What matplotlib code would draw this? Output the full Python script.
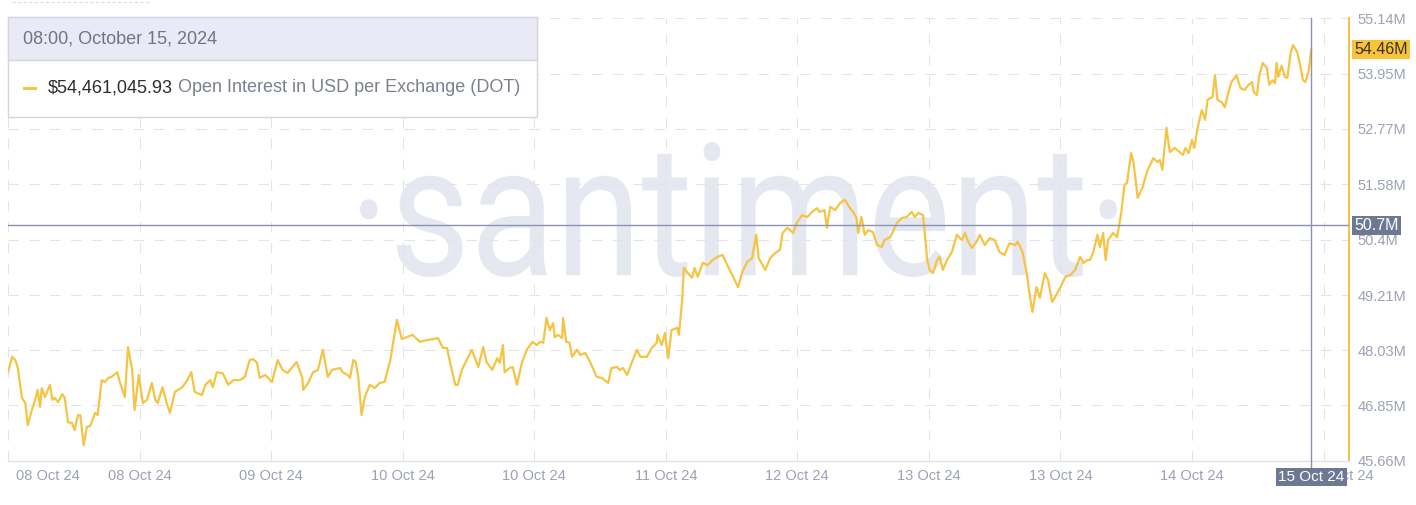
import matplotlib
matplotlib.use("Agg")
import matplotlib.pyplot as plt
from matplotlib.font_manager import FontProperties
from matplotlib.lines import Line2D
from matplotlib.patches import PathPatch, Rectangle
from matplotlib.textpath import TextPath
from matplotlib.transforms import Affine2D, IdentityTransform

# hours since the first sample (08 Oct 24) and open interest in millions USD
HOURS = [
    0.0, 0.5, 0.9, 1.2, 1.7, 2.1, 2.4, 2.9, 3.3, 3.6,
    3.9, 4.1, 4.5, 5.1, 5.4, 5.7, 6.1, 6.6, 6.9, 7.3,
    7.8, 8.1, 8.5, 8.8, 9.2, 9.6, 10.0, 10.6, 10.9, 11.4,
    11.8, 12.2, 12.6, 13.3, 13.6, 14.2, 14.6, 15.1, 15.4, 15.9,
    16.4, 16.9, 17.5, 17.9, 18.2, 18.8, 19.3, 19.7, 20.3, 21.2,
    21.8, 22.3, 22.7, 23.6, 24.0, 24.6, 24.9, 25.4, 26.1, 26.8,
    27.4, 28.2, 28.8, 29.4, 29.8, 30.3, 30.6, 31.3, 32.1, 32.8,
    33.4, 34.0, 35.1, 35.8, 35.9, 36.5, 37.1, 37.7, 38.3, 38.9,
    39.4, 40.4, 40.7, 41.3, 41.6, 42.0, 42.3, 42.6, 43.0, 43.4,
    44.0, 44.6, 45.2, 45.8, 46.5, 47.3, 47.9, 48.5, 49.2, 50.1,
    51.0, 51.7, 52.3, 52.9, 53.4, 53.7, 54.4, 54.7, 55.2, 56.4,
    56.8, 57.2, 57.8, 58.2, 58.9, 59.5, 59.8, 60.2, 60.4, 61.0,
    61.4, 61.9, 62.5, 63.1, 63.8, 64.3, 64.7, 65.1, 65.5, 65.9,
    66.3, 66.5, 66.9, 67.4, 67.5, 67.9, 68.3, 68.6, 69.2, 69.6,
    70.2, 70.8, 71.6, 72.2, 73.0, 73.4, 74.1, 74.4, 74.8, 75.3,
    75.9, 76.5, 76.9, 77.7, 78.3, 78.9, 79.0, 79.5, 79.9, 80.3,
    80.7, 81.4, 81.6, 82.0, 82.2, 82.7, 83.2, 83.5, 83.9, 84.5,
    85.1, 85.7, 86.3, 86.9, 87.6, 88.2, 88.8, 89.3, 89.9, 90.5,
    91.0, 91.3, 92.1, 92.7, 93.3, 93.9, 94.2, 94.8, 95.5, 95.9,
    96.6, 97.2, 97.8, 98.4, 98.7, 99.3, 99.6, 100.0, 100.6, 101.2,
    101.8, 102.4, 102.8, 103.2, 103.4, 103.8, 104.2, 104.6, 105.2, 105.7,
    106.3, 106.6, 107.3, 107.6, 108.1, 108.7, 109.3, 109.9, 110.3, 110.7,
    111.3, 111.8, 112.1, 112.5, 113.0, 113.3, 113.7, 114.2, 114.8, 115.4,
    116.0, 116.4, 116.7, 117.2, 117.8, 118.2, 118.8, 119.4, 120.0, 120.6,
    121.2, 121.8, 122.5, 122.8, 123.4, 123.9, 124.3, 124.6, 125.1, 125.5,
    126.1, 126.5, 127.0, 127.3, 128.0, 128.6, 129.2, 129.8, 130.4, 130.8,
    131.3, 131.6, 132.0, 132.5, 132.8, 133.2, 133.5, 133.8, 134.4, 134.9,
    135.4, 135.8, 136.1, 136.6, 136.9, 137.4, 138.0, 138.6, 138.9, 139.3,
    139.8, 140.1, 140.4, 140.9, 141.3, 141.9, 142.5, 142.9, 143.2, 143.6,
    144.0, 144.3, 144.7, 145.2, 145.6, 145.9, 146.5, 146.8, 147.1, 147.6,
    148.0, 148.4, 148.8, 149.2, 149.4, 149.9, 150.4, 150.9, 151.3, 151.5,
    151.9, 152.2, 152.6, 153.1, 153.4, 153.8, 154.1, 154.3, 154.5, 154.9,
    155.3, 155.6, 156.0, 156.3, 156.8, 157.2, 157.5, 157.8, 158.2, 158.5,
]

OPEN_INTEREST = [
    47.56, 47.89, 47.82, 47.65, 47.01, 46.90, 46.43, 46.75, 46.97, 47.18,
    46.82, 47.22, 47.03, 47.29, 46.97, 47.01, 46.92, 47.09, 47.01, 46.49,
    46.47, 46.32, 46.64, 46.64, 46.00, 46.39, 46.41, 46.69, 46.64, 47.39,
    47.35, 47.44, 47.46, 47.56, 47.35, 47.03, 48.10, 47.61, 46.75, 47.50,
    46.90, 46.97, 47.33, 46.97, 46.90, 47.24, 46.90, 46.69, 47.14, 47.24,
    47.39, 47.56, 47.14, 47.07, 47.29, 47.39, 47.24, 47.56, 47.54, 47.29,
    47.39, 47.39, 47.46, 47.82, 47.84, 47.76, 47.44, 47.50, 47.35, 47.82,
    47.61, 47.54, 47.78, 47.44, 47.18, 47.33, 47.56, 47.61, 48.04, 47.46,
    47.61, 47.65, 47.56, 47.50, 47.44, 47.82, 47.78, 47.46, 46.64, 47.03,
    47.29, 47.22, 47.33, 47.35, 47.82, 48.68, 48.27, 48.31, 48.36, 48.21,
    48.25, 48.27, 48.29, 48.08, 48.08, 47.82, 47.29, 47.29, 47.61, 48.04,
    47.86, 47.67, 48.10, 47.78, 47.61, 47.86, 47.76, 48.14, 47.56, 47.65,
    47.67, 47.29, 47.76, 48.04, 48.21, 48.14, 48.21, 48.19, 48.72, 48.46,
    48.61, 48.31, 48.36, 48.29, 48.72, 48.21, 48.19, 47.89, 48.04, 47.93,
    47.97, 47.78, 47.46, 47.44, 47.33, 47.65, 47.67, 47.61, 47.65, 47.50,
    47.78, 48.04, 47.89, 47.89, 48.08, 48.19, 48.36, 48.14, 48.40, 47.86,
    48.46, 48.51, 48.36, 49.11, 49.79, 49.68, 49.58, 49.79, 49.60, 49.90,
    49.85, 49.96, 50.03, 50.07, 49.81, 49.60, 49.38, 49.70, 49.92, 50.00,
    50.50, 50.00, 49.75, 50.00, 50.11, 50.18, 50.54, 50.65, 50.54, 50.75,
    50.92, 50.88, 50.99, 51.07, 50.99, 51.03, 50.65, 51.10, 51.03, 51.18,
    51.25, 51.07, 50.99, 50.86, 50.54, 50.88, 50.50, 50.60, 50.56, 50.28,
    50.24, 50.39, 50.45, 50.56, 50.75, 50.86, 50.88, 50.99, 50.88, 50.97,
    50.92, 49.96, 49.75, 49.68, 49.96, 50.03, 49.75, 49.96, 50.13, 50.50,
    50.39, 50.54, 50.39, 50.22, 50.35, 50.50, 50.28, 50.43, 50.39, 50.13,
    50.07, 50.32, 50.28, 50.35, 50.13, 49.68, 49.17, 48.85, 49.38, 49.15,
    49.68, 49.53, 49.06, 49.15, 49.38, 49.60, 49.64, 49.75, 50.03, 49.90,
    49.96, 49.96, 50.13, 50.50, 50.24, 50.54, 49.96, 50.39, 50.54, 50.45,
    50.97, 51.57, 51.61, 52.25, 52.04, 51.29, 51.52, 51.89, 51.99, 52.14,
    52.06, 52.10, 51.89, 52.79, 52.27, 52.36, 52.27, 52.21, 52.36, 52.25,
    52.53, 52.36, 52.81, 53.17, 52.96, 53.39, 53.45, 53.92, 53.39, 53.34,
    53.23, 53.53, 53.77, 53.86, 53.92, 53.64, 53.60, 53.71, 53.77, 53.56,
    53.49, 53.92, 54.18, 54.07, 53.71, 53.81, 53.75, 54.18, 53.88, 54.12,
    53.88, 53.86, 54.39, 54.56, 54.41, 54.09, 53.81, 53.77, 54.01, 54.46,
]

X_TICK_HOURS = [0, 16, 32, 48, 64, 80, 96, 112, 128, 144, 160]
X_TICK_LABELS = [
    "08 Oct 24", "08 Oct 24", "09 Oct 24", "10 Oct 24", "10 Oct 24",
    "11 Oct 24", "12 Oct 24", "13 Oct 24", "13 Oct 24", "14 Oct 24",
    "15 Oct 24",
]
Y_TICKS = [45.66, 46.85, 48.03, 49.21, 50.4, 51.58, 52.77, 53.95, 55.14]
Y_TICK_LABELS = [
    "45.66M", "46.85M", "48.03M", "49.21M", "50.4M",
    "51.58M", "52.77M", "53.95M", "55.14M",
]

CROSS_HOUR = 158.5
CROSS_VALUE = 50.7
CROSS_VALUE_LABEL = "50.7M"
CROSS_DATE_LABEL = "15 Oct 24"
LAST_VALUE = 54.46
LAST_VALUE_LABEL = "54.46M"

TOOLTIP_TITLE = "08:00, October 15, 2024"
TOOLTIP_VALUE = "$54,461,045.93"
TOOLTIP_METRIC = " Open Interest in USD per Exchange (DOT)"
WATERMARK = "·santiment·"

W, H = 1416, 505
LINE_COLOR = "#f5c445"
GRID_COLOR = "#e3e4ea"
CROSS_COLOR = "#8c92b2"
TICK_COLOR = "#9ca2b4"
BADGE_COLOR = "#6d7895"

plt.rcParams["font.family"] = ["Liberation Sans", "DejaVu Sans"]

fig = plt.figure(figsize=(W / 100, H / 100), dpi=100)
ax = fig.add_axes([8 / W, 44 / H, 1341 / W, 443 / H])
ax.set_xlim(0, 163.1)
ax.set_ylim(45.66, 55.14)

# watermark: a condensed outline fitted into its box (pixels, from top-left)
wm = TextPath((0, 0), WATERMARK, size=1, prop=FontProperties(family="Roboto"))
ext = wm.get_extents()
box_l, box_r, box_t, box_b = 360, 1117, 142, 277
sx = (box_r - box_l) / ext.width
sy = (box_b - box_t) / ext.height
wm_tr = Affine2D().translate(-ext.x0, -ext.y0).scale(sx, sy).translate(box_l, H - box_b)
ax.add_patch(PathPatch(wm, transform=wm_tr + IdentityTransform(), fc="#e5e7f1",
                       ec="none", zorder=0.5))

ax.set_xticks(X_TICK_HOURS, labels=[""] * len(X_TICK_HOURS))
ax.yaxis.tick_right()
ax.set_yticks(Y_TICKS, labels=Y_TICK_LABELS)
ax.tick_params(axis="both", length=0)
ax.tick_params(axis="y", pad=6, labelcolor=TICK_COLOR, labelsize=10.5)
ax.grid(True, color=GRID_COLOR, linestyle=(0, (10, 10)), linewidth=0.75)
ax.set_axisbelow(True)

for side in ("top", "left"):
    ax.spines[side].set_visible(False)
ax.spines["right"].set_color(LINE_COLOR)
ax.spines["right"].set_linewidth(1.5)
ax.spines["bottom"].set_color("#e2e3e8")
ax.spines["bottom"].set_linewidth(1)

last = len(X_TICK_HOURS) - 1
for i, (h, lab) in enumerate(zip(X_TICK_HOURS, X_TICK_LABELS)):
    dx = 6 if i == 0 else (13 if i == last else 0)
    ax.annotate(lab, (h, 0), xycoords=("data", "axes fraction"),
                xytext=(dx, -11), textcoords="offset points",
                ha="left" if i == 0 else "center", va="center",
                color=TICK_COLOR, fontsize=10.5, annotation_clip=False)

ax.plot(HOURS, OPEN_INTEREST, color=LINE_COLOR, linewidth=1.6,
        solid_joinstyle="round", zorder=3)

# crosshair
ax.axhline(CROSS_VALUE, color=CROSS_COLOR, linewidth=1, zorder=4)
ax.plot([CROSS_HOUR, CROSS_HOUR], [-0.015, 1], color=CROSS_COLOR,
        linewidth=1, transform=ax.get_xaxis_transform(), clip_on=False,
        zorder=4)

ax.text(1.004, CROSS_VALUE, CROSS_VALUE_LABEL, transform=ax.get_yaxis_transform(),
        ha="left", va="center", color="white", fontsize=11.5, zorder=6,
        bbox=dict(boxstyle="square,pad=0.12", fc=BADGE_COLOR, ec="none"))
ax.text(1.004, LAST_VALUE, LAST_VALUE_LABEL, transform=ax.get_yaxis_transform(),
        ha="left", va="center", color="#3a3220", fontsize=11.5, zorder=6,
        bbox=dict(boxstyle="square,pad=0.12", fc="#f8c33b", ec="none"))
ax.text(CROSS_HOUR, -0.036, CROSS_DATE_LABEL, transform=ax.get_xaxis_transform(),
        ha="center", va="center", color="white", fontsize=11, zorder=6,
        bbox=dict(boxstyle="square,pad=0.15", fc=BADGE_COLOR, ec="none"))


def fx(px):
    return px / W


def fy(py):
    return (H - py) / H


# tooltip box
fig.add_artist(Rectangle((fx(8), fy(117)), 529 / W, 100 / H, transform=fig.transFigure,
                         fc="white", ec="#d3d6e2", lw=1, zorder=5))
fig.add_artist(Rectangle((fx(8), fy(60)), 529 / W, 43 / H, transform=fig.transFigure,
                         fc="#e9eaf5", ec="#d3d6e2", lw=1, zorder=5))
fig.text(fx(23), fy(39), TOOLTIP_TITLE, ha="left", va="center", color="#6f7584",
         fontsize=13, zorder=6)
fig.add_artist(Line2D([fx(24), fx(35)], [fy(88), fy(88)], transform=fig.transFigure,
                      color=LINE_COLOR, linewidth=2.2, zorder=6))
t_value = fig.text(fx(48), fy(88), TOOLTIP_VALUE, ha="left", va="center",
                   color="#2e2e2e", fontsize=13, zorder=6)
fig.add_artist(plt.Annotation(TOOLTIP_METRIC, xy=(1, 0.5), xycoords=t_value,
                              ha="left", va="center", color="#7b8090",
                              fontsize=13, zorder=6))

# faint outline of a control above the tooltip
fig.add_artist(Line2D([fx(12), fx(150)], [fy(2), fy(2)], transform=fig.transFigure,
                      color="#dcdde3", linewidth=0.8, linestyle=(0, (3, 2)), zorder=5))

fig.savefig("out.png", dpi=100)
